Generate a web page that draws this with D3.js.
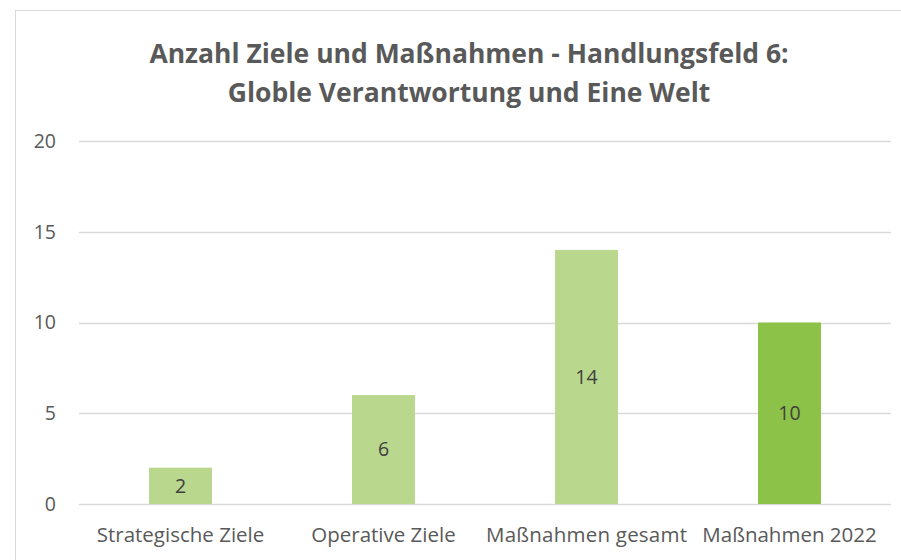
<!DOCTYPE html>
<html>
<head>
<meta charset="utf-8">
<script src="https://cdn.jsdelivr.net/npm/d3@7"></script>
<style>
  body { margin: 0; background: #fff; }
  text { font-family: "Open Sans", "Noto Sans", sans-serif; }
</style>
</head>
<body>
<script>
(function(){
'use strict';

var categories = ['Strategische Ziele', 'Operative Ziele', 'Maßnahmen gesamt', 'Maßnahmen 2022'];
var values = [2, 6, 14, 10];
var barColors = ['#b9d78d', '#b9d78d', '#b9d78d', '#8cc247'];
var yTicks = [0, 5, 10, 15, 20];
var titleLines = ['Anzahl Ziele und Maßnahmen - Handlungsfeld 6:', 'Globle Verantwortung und Eine Welt'];

var width = 901;
var height = 560;
var margin = {top: 141, right: 10, bottom: 56, left: 79};

var svg = d3.select('body').append('svg')
	.attr('width', width)
	.attr('height', height);

// chart frame
svg.append('rect')
	.attr('x', 15.5).attr('y', 10.5)
	.attr('width', 920).attr('height', 600)
	.attr('fill', '#fff')
	.attr('stroke', '#d9d9d9');

var x = d3.scaleBand()
	.domain(categories)
	.range([margin.left, width - margin.right])
	.paddingInner(0.69)
	.paddingOuter(0.345);

var y = d3.scaleLinear()
	.domain([0, 20])
	.range([height - margin.bottom, margin.top]);

// gridlines
svg.append('g')
	.selectAll('line')
	.data(yTicks)
	.enter().append('line')
	.attr('x1', margin.left).attr('x2', width - margin.right)
	.attr('y1', function(d){ return Math.round(y(d)) + 0.5; })
	.attr('y2', function(d){ return Math.round(y(d)) + 0.5; })
	.attr('stroke', '#d9d9d9')
	.attr('stroke-width', 1.5);

// y axis labels
var yAxis = svg.append('g')
	.attr('transform', 'translate(' + (margin.left - 23) + ',0)')
	.call(d3.axisLeft(y).tickValues(yTicks).tickSize(0).tickPadding(0));
yAxis.select('.domain').remove();
yAxis.selectAll('text')
	.attr('fill', '#595959')
	.style('font-size', '19.5px')
	.style('font-family', '"Open Sans", sans-serif');

// bars
svg.append('g')
	.selectAll('rect')
	.data(values)
	.enter().append('rect')
	.attr('x', function(d, i){ return x(categories[i]); })
	.attr('y', function(d){ return y(d); })
	.attr('width', x.bandwidth())
	.attr('height', function(d){ return y(0) - y(d); })
	.attr('fill', function(d, i){ return barColors[i]; });

// value labels
svg.append('g')
	.selectAll('text')
	.data(values)
	.enter().append('text')
	.attr('x', function(d, i){ return x(categories[i]) + x.bandwidth() / 2; })
	.attr('y', function(d){ return (y(d) + y(0)) / 2; })
	.attr('dy', '0.35em')
	.attr('text-anchor', 'middle')
	.attr('fill', '#404040')
	.style('font-size', '19.5px')
	.text(function(d){ return d; });

// x axis labels
var xAxis = svg.append('g')
	.attr('transform', 'translate(0,' + (y(0) + 23) + ')')
	.call(d3.axisBottom(x).tickSize(0).tickPadding(0));
xAxis.select('.domain').remove();
xAxis.selectAll('text')
	.attr('fill', '#595959')
	.style('font-size', '20.5px')
	.style('font-family', '"Open Sans", sans-serif')
	.attr('textLength', function(d){ return d === 'Maßnahmen gesamt' ? 201 : null; });

// title
var title = svg.append('text')
	.attr('text-anchor', 'middle')
	.attr('fill', '#595959')
	.style('font-size', '26.5px')
	.style('font-weight', 'bold');
title.selectAll('tspan')
	.data(titleLines)
	.enter().append('tspan')
	.attr('x', 469)
	.attr('y', function(d, i){ return 63 + i * 39; })
	.text(function(d){ return d; });

})();
</script>
</body>
</html>
